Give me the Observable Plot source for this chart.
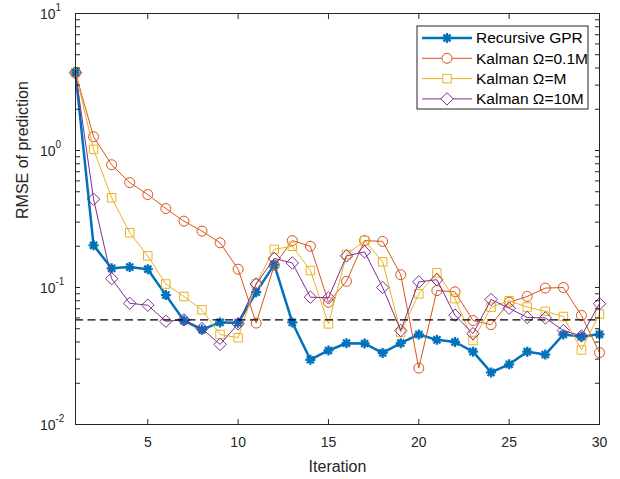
<!DOCTYPE html>
<html><head><meta charset="utf-8">
<script src="https://cdn.jsdelivr.net/npm/d3@7"></script>
<script src="https://cdn.jsdelivr.net/npm/@observablehq/plot@0.6"></script>
<style>
body{margin:0;background:#fff}
#chart svg{font-family:"Liberation Sans",Arial,Helvetica,sans-serif;overflow:visible}
</style>
</head><body><div id="chart"></div>
<script>
// ---- data ----
const iterations = [1,2,3,4,5,6,7,8,9,10,11,12,13,14,15,16,17,18,19,20,21,22,23,24,25,26,27,28,29,30];
const recursiveGPR = [3.7,0.203,0.138,0.141,0.136,0.088,0.0574,0.0493,0.0556,0.0553,0.0925,0.147,0.0556,0.0297,0.0347,0.0392,0.039,0.0333,0.0392,0.0454,0.0415,0.040,0.034,0.024,0.0275,0.034,0.0324,0.0454,0.0438,0.0455];
const kalman01M = [3.7,1.26,0.787,0.583,0.477,0.377,0.305,0.258,0.212,0.136,0.055,0.145,0.22,0.2,0.078,0.111,0.22,0.217,0.124,0.0258,0.095,0.093,0.0574,0.0535,0.078,0.086,0.099,0.1,0.0625,0.0335];
const kalmanM = [3.7,1.02,0.452,0.251,0.170,0.106,0.086,0.0687,0.0454,0.043,0.107,0.19,0.2,0.133,0.0543,0.174,0.22,0.154,0.047,0.09,0.128,0.083,0.041,0.0718,0.08,0.072,0.067,0.0614,0.035,0.064];
const kalman10M = [3.7,0.441,0.116,0.0767,0.0743,0.0567,0.058,0.0502,0.0384,0.0543,0.106,0.163,0.151,0.085,0.084,0.17,0.182,0.1,0.0485,0.11,0.114,0.0628,0.046,0.0817,0.0706,0.0604,0.06,0.0485,0.0443,0.076];
const threshold = 0.058;
const seriesNames = ["Recursive GPR","Kalman \u03A9=0.1M","Kalman \u03A9=M","Kalman \u03A9=10M"];
const xTicks = [5,10,15,20,25,30];
const yMajorTicks = [0.01,0.1,1,10];
const yExponents = ["-2","-1","0","1"];

// ---- styling ----
const ink = "#262626";
const asterisk8 = {
  draw(ctx, size) {
    const r = Math.sqrt(size / Math.PI), d = r * Math.SQRT1_2;
    ctx.moveTo(-r, 0); ctx.lineTo(r, 0);
    ctx.moveTo(0, -r); ctx.lineTo(0, r);
    ctx.moveTo(-d, -d); ctx.lineTo(d, d);
    ctx.moveTo(-d, d); ctx.lineTo(d, -d);
  }
};
const styles = [
  {color:"#0072BD", symbol:asterisk8, lw:2.5, r:5, sw:2.3},
  {color:"#D95319", symbol:"circle", lw:1, r:5, sw:1},
  {color:"#EDB120", symbol:"square", lw:1, r:4.8, sw:1},
  {color:"#7E2F8E", symbol:"diamond2", lw:1, r:5.6, sw:1}
];
const allValues = [recursiveGPR, kalman01M, kalmanM, kalman10M];
const series = seriesNames.map((name, k) => ({
  name, ...styles[k],
  data: iterations.map((x, i) => ({x, y: allValues[k][i]}))
}));

const yMinor = d3.scaleLog().domain([0.01, 10]).ticks();

const marks = [];
for (const s of series) {
  marks.push(Plot.line(s.data, {x:"x", y:"y", stroke:s.color, strokeWidth:s.lw}));
  marks.push(Plot.dot(s.data, {x:"x", y:"y", symbol:s.symbol, r:s.r, stroke:s.color, fill:"none", strokeWidth:s.sw}));
}
marks.push(Plot.ruleY([threshold], {stroke:"#000", strokeWidth:1.2, strokeDasharray:"8,4.5"}));

const chart = Plot.plot({
  width: 620, height: 479,
  marginLeft: 75, marginRight: 21, marginTop: 13, marginBottom: 55,
  style: {fontFamily:'"Liberation Sans",Arial,sans-serif', color: ink, background:"#fff"},
  x: {domain:[1,30]},
  y: {type:"log", domain:[0.01,10]},
  marks: [
    ...marks,
    Plot.frame({stroke: ink, strokeWidth: 1}),
    Plot.axisX({anchor:"bottom", ticks:xTicks, tickSize:-5, tickPadding:18, fontSize:14, label:null, stroke:ink, color:ink}),
    Plot.axisX({anchor:"top", ticks:xTicks, tickSize:-5, tickFormat:()=>"", label:null, stroke:ink}),
    Plot.axisY({anchor:"left", ticks:yMinor, tickSize:-5, tickFormat:()=>"", label:null, stroke:ink}),
    Plot.axisY({anchor:"right", ticks:yMinor, tickSize:-5, tickFormat:()=>"", label:null, stroke:ink}),
    Plot.text(yMajorTicks, {y:d=>d, frameAnchor:"left", text:()=>"10", textAnchor:"end", dx:-20, dy:1, fontSize:14, fill:ink}),
    Plot.text(yMajorTicks, {y:d=>d, frameAnchor:"left", text:(d,i)=>yExponents[i], textAnchor:"start", dx:-20, dy:-6, fontSize:10, fill:ink}),
    Plot.text(["Iteration"], {frameAnchor:"bottom", dy:47, fontSize:16, fill:ink}),
    Plot.text(["RMSE of prediction"], {frameAnchor:"left", rotate:-90, dx:-53, fontSize:16, fill:ink})
  ]
});
document.getElementById("chart").appendChild(chart);

// ---- legend (inside plot, top-right) ----
const svg = d3.select(chart);
const lg = svg.append("g").attr("font-family",'"Liberation Sans",Arial,sans-serif').attr("text-anchor","start");
const bx = 417, by = 26, bw = 171, bh = 83, rowH = 20.3, row0 = 38;
lg.append("rect").attr("x",bx).attr("y",by).attr("width",bw).attr("height",bh)
  .attr("fill","#fff").attr("stroke",ink).attr("stroke-width",1);
series.forEach((s, i) => {
  const yy = row0 + i * rowH;
  lg.append("line").attr("x1",bx+5).attr("x2",bx+55).attr("y1",yy).attr("y2",yy)
    .attr("stroke",s.color).attr("stroke-width",s.lw);
  const sym = typeof s.symbol === "string"
    ? {circle:d3.symbolCircle, square:d3.symbolSquare, diamond2:d3.symbolDiamond2}[s.symbol]
    : s.symbol;
  lg.append("path").attr("d", d3.symbol(sym, Math.PI * s.r * s.r)())
    .attr("transform",`translate(${bx+30},${yy})`)
    .attr("fill","#fff").attr("stroke",s.color).attr("stroke-width",s.sw);
  lg.append("text").attr("x",bx+59).attr("y",yy).attr("dy","0.35em").attr("text-anchor","start")
    .attr("font-size",15.5).attr("fill","#000").text(s.name);
});
</script>
</body></html>
